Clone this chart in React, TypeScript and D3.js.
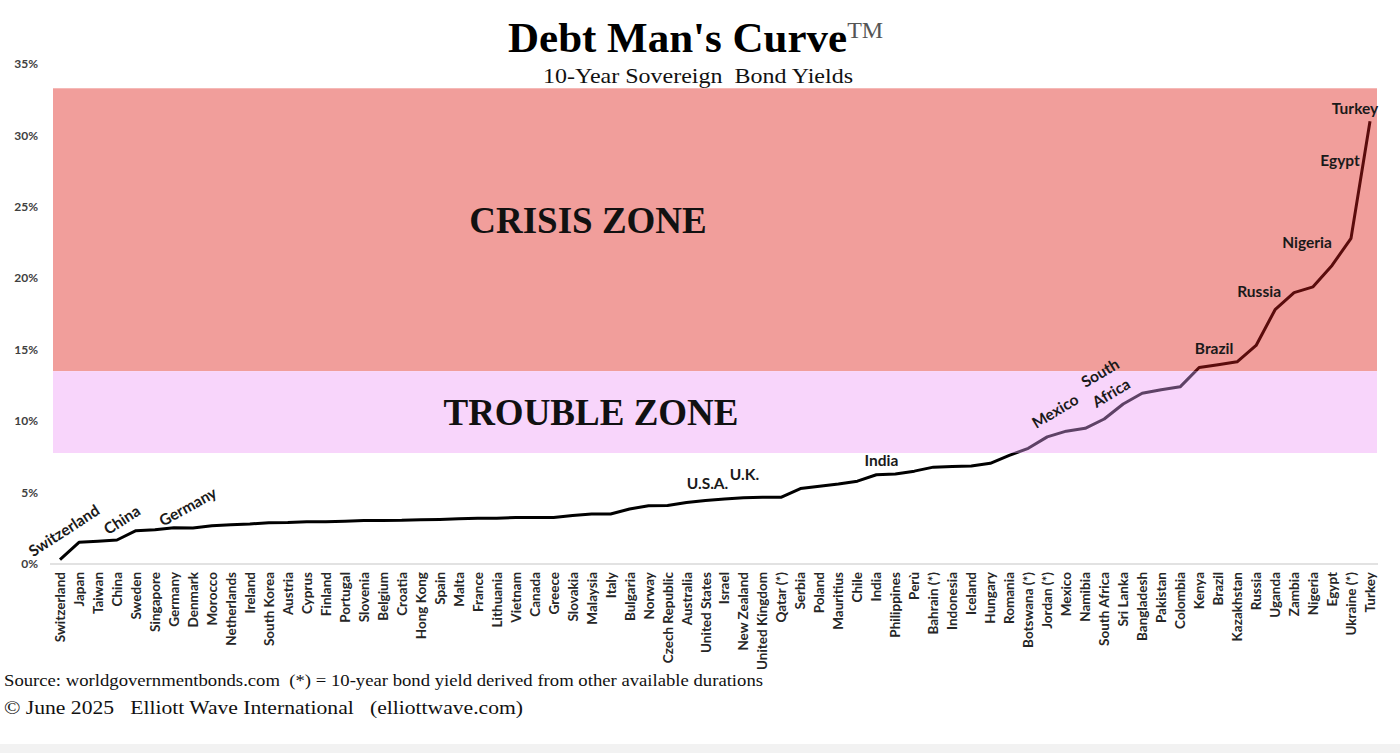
import * as d3 from "d3";

const countries = [
  "Switzerland", "Japan", "Taiwan", "China", "Sweden", "Singapore", "Germany",
  "Denmark", "Morocco", "Netherlands", "Ireland", "South Korea", "Austria",
  "Cyprus", "Finland", "Portugal", "Slovenia", "Belgium", "Croatia",
  "Hong Kong", "Spain", "Malta", "France", "Lithuania", "Vietnam", "Canada",
  "Greece", "Slovakia", "Malaysia", "Italy", "Bulgaria", "Norway",
  "Czech Republic", "Australia", "United States", "Israel", "New Zealand",
  "United Kingdom", "Qatar (*)", "Serbia", "Poland", "Mauritius", "Chile",
  "India", "Philippines", "Perù", "Bahrain (*)", "Indonesia", "Iceland",
  "Hungary", "Romania", "Botswana (*)", "Jordan (*)", "Mexico", "Namibia",
  "South Africa", "Sri Lanka", "Bangladesh", "Pakistan", "Colombia", "Kenya",
  "Brazil", "Kazakhstan", "Russia", "Uganda", "Zambia", "Nigeria", "Egypt",
  "Ukraine (*)", "Turkey",
];

// 10-year yields, %
const yields = [
  0.3, 1.52, 1.6, 1.68, 2.33, 2.4, 2.54, 2.52, 2.68, 2.75, 2.8, 2.89, 2.9,
  2.95, 2.96, 3.0, 3.05, 3.05, 3.06, 3.1, 3.12, 3.16, 3.2, 3.21, 3.25, 3.25,
  3.26, 3.4, 3.5, 3.5, 3.85, 4.08, 4.1, 4.3, 4.45, 4.55, 4.63, 4.68, 4.68,
  5.28, 5.45, 5.6, 5.8, 6.25, 6.3, 6.5, 6.78, 6.82, 6.86, 7.05, 7.6, 8.1,
  8.9, 9.3, 9.5, 10.15, 11.2, 11.95, 12.2, 12.4, 13.75, 13.95, 14.15, 15.3,
  17.8, 19.0, 19.4, 20.9, 22.8, 31.0,
];

const yTicks = [0, 5, 10, 15, 20, 25, 30, 35];
const crisisZone = [13.5, 33.3];
const troubleZone = [7.77, 13.5];

// label, country anchor, dx, dy, rotation
const annotations: [string, string, number, number, number][] = [
  ["Switzerland", "Switzerland", 4, -29, -33],
  ["China", "China", 5, -20, -33],
  ["Germany", "Germany", 14, -21, -29],
  ["U.S.A.", "United States", 2, -17, 0],
  ["U.K.", "United Kingdom", -18, -23, 0],
  ["India", "India", 5, -14, 0],
  ["Mexico", "Mexico", -11, -20, -31],
  ["South", "South Africa", -4, -46, -31],
  ["Africa", "South Africa", 7, -26, -31],
  ["Brazil", "Brazil", -4, -16, 0],
  ["Russia", "Russia", 3, -54, 0],
  ["Nigeria", "Nigeria", -6, -44, 0],
  ["Egypt", "Egypt", 8, -105, 0],
  ["Turkey", "Turkey", -15, -13, 0],
];

const W = 1400;
const H = 753;
const sans = "Lato, 'Open Sans', sans-serif";
const serif = "'Liberation Serif', 'Times New Roman', serif";

export default function App() {
  const x = d3.scalePoint<string>().domain(countries).range([60, 1370]);
  const y = d3.scaleLinear().domain([0, 35]).range([564, 64]);
  const zoneLeft = 53;
  const zoneRight = 1377;

  const pts = countries.map((c, i) => [x(c) as number, y(yields[i])] as [number, number]);
  const path = d3.line()(pts) || "";

  const yTrouble = y(troubleZone[0]);
  const yCrisis = y(crisisZone[0]);

  return (
    <div style={{ position: "absolute", left: 0, top: 0 }}>
      <svg width={W} height={H} style={{ display: "block", background: "#fff" }}>
        <defs>
          <clipPath id="clipBlack">
            <rect x={0} y={yTrouble} width={W} height={H - yTrouble} />
          </clipPath>
          <clipPath id="clipPurple">
            <rect x={0} y={yCrisis} width={W} height={yTrouble - yCrisis} />
          </clipPath>
          <clipPath id="clipRed">
            <rect x={0} y={0} width={W} height={yCrisis} />
          </clipPath>
        </defs>

        {/* zones */}
        <rect
          x={zoneLeft}
          y={y(crisisZone[1])}
          width={zoneRight - zoneLeft}
          height={y(crisisZone[0]) - y(crisisZone[1])}
          fill="#f19e9b"
        />
        <rect
          x={zoneLeft}
          y={y(troubleZone[1])}
          width={zoneRight - zoneLeft}
          height={y(troubleZone[0]) - y(troubleZone[1])}
          fill="#f8d5fb"
        />
        <text x={588} y={233} textAnchor="middle" fontFamily={serif} fontWeight="bold" fontSize={37} fill="#111">
          CRISIS ZONE
        </text>
        <text x={591} y={425} textAnchor="middle" fontFamily={serif} fontWeight="bold" fontSize={37} fill="#111">
          TROUBLE ZONE
        </text>

        {/* title */}
        <text x={508} y={52} fontFamily={serif} fontWeight="bold" fontSize={43} fill="#000">
          Debt Man's Curve
          <tspan fontSize={24} fontWeight="normal" fill="#555" dy={-14}>TM</tspan>
        </text>
        <text x={543} y={83} fontFamily={serif} fontSize={22} fill="#111" xmlSpace="preserve" textLength={310} lengthAdjust="spacingAndGlyphs">
          10-Year Sovereign  Bond Yields
        </text>

        {/* y axis */}
        {yTicks.map((t) => (
          <text
            key={t}
            x={38}
            y={y(t)}
            dy="0.35em"
            textAnchor="end"
            fontFamily={sans}
            fontWeight="bold"
            fontSize={12}
            fill="#404040"
          >
            {t}%
          </text>
        ))}
        <line x1={50} x2={1378} y1={y(0)} y2={y(0)} stroke="#d9d9d9" strokeWidth={1.5} />

        {/* x labels */}
        {countries.map((c) => (
          <text
            key={c}
            transform={`translate(${(x(c) as number) + 5},${y(0) + 8}) rotate(-90)`}
            textAnchor="end"
            fontFamily={sans}
            fontWeight="bold"
            fontSize={13.5}
            fill="#262626"
          >
            {c}
          </text>
        ))}

        {/* curve */}
        <path d={path} fill="none" stroke="#000" strokeWidth={3} strokeLinejoin="round" clipPath="url(#clipBlack)" />
        <path d={path} fill="none" stroke="#5e4266" strokeWidth={3} strokeLinejoin="round" clipPath="url(#clipPurple)" />
        <path d={path} fill="none" stroke="#5a0c0c" strokeWidth={3} strokeLinejoin="round" clipPath="url(#clipRed)" />

        {/* annotations */}
        {annotations.map(([label, c, dx, dy, rot], i) => {
          const px = (x(c) as number) + dx;
          const py = y(yields[countries.indexOf(c)]) + dy;
          return (
            <text
              key={i}
              transform={`translate(${px},${py}) rotate(${rot})`}
              textAnchor="middle"
              dy="0.35em"
              fontFamily={sans}
              fontWeight="bold"
              fontSize={15.5}
              fill="#1a1a1a"
            >
              {label}
            </text>
          );
        })}

        {/* footer */}
        <text x={4} y={686} fontFamily={serif} fontSize={17} fill="#111" textLength={759} lengthAdjust="spacingAndGlyphs" xmlSpace="preserve">
          Source: worldgovernmentbonds.com  (*) = 10-year bond yield derived from other available durations
        </text>
        <text x={4} y={714} fontFamily={serif} fontSize={19} fill="#111" textLength={519} lengthAdjust="spacingAndGlyphs" xmlSpace="preserve">
          © June 2025   Elliott Wave International   (elliottwave.com)
        </text>
        <rect x={0} y={744} width={W} height={9} fill="#f2f2f2" />
      </svg>
    </div>
  );
}
